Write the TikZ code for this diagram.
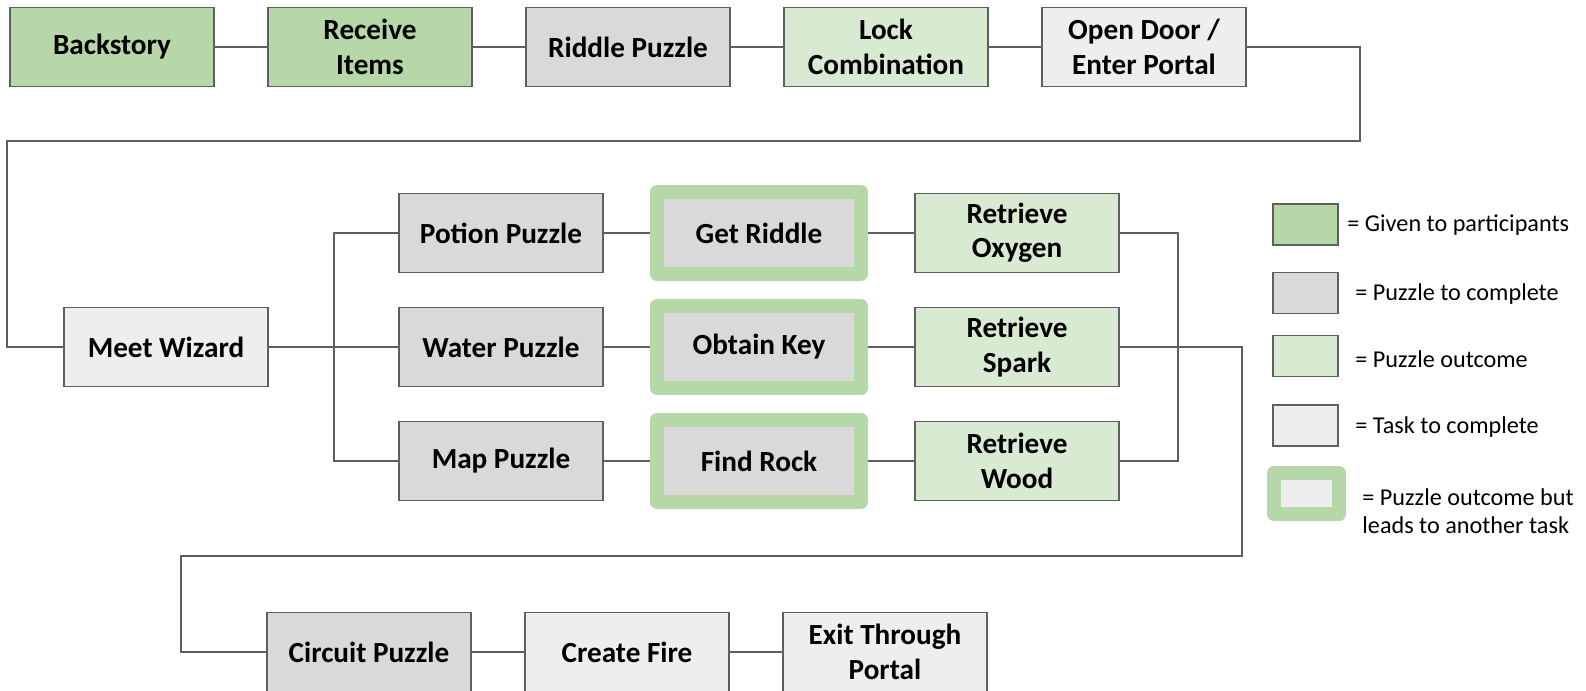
\documentclass[tikz,border=0pt]{standalone}
\usepackage{fontspec}
\setmainfont{Carlito}
\usetikzlibrary{positioning}
\definecolor{givengreen}{HTML}{B6D7A8}
\definecolor{puzzlegray}{HTML}{D9D9D9}
\definecolor{outcomegreen}{HTML}{D9EAD3}
\definecolor{taskgray}{HTML}{EEEEEE}
\definecolor{linegray}{HTML}{5F5F5F}
\tikzset{
  box/.style={draw=linegray, line width=0.6pt, minimum width=102pt, minimum height=39.5pt,
    inner sep=0pt, align=center, font=\fontsize{14.6}{17.2}\selectfont\bfseries},
  given/.style={box, fill=givengreen},
  puzzle/.style={box, fill=puzzlegray},
  outcome/.style={box, fill=outcomegreen},
  task/.style={box, fill=taskgray},
  keyout/.style={box, draw=givengreen, line width=7pt, line join=round, fill=puzzlegray,
    minimum height=41pt},
  swatch/.style={draw=linegray, line width=0.6pt, minimum width=32.5pt, minimum height=20.5pt, inner sep=0pt},
  legendtext/.style={anchor=west, inner sep=0pt, align=left, font=\fontsize{12.1}{14}\selectfont},
  link/.style={draw=linegray, line width=0.75pt}
}
\begin{document}
\begin{tikzpicture}[x=0.5pt, y=-0.5pt, node distance=129pt]
  \useasboundingbox (0,0) rectangle (1586,691);

  \node[given] (backstory) at (112,47) {Backstory};
  \node[given, right of=backstory] (receive) {Receive\\Items};
  \node[puzzle, right of=receive] (riddle) {Riddle Puzzle};
  \node[outcome, right of=riddle] (lock) {Lock\\Combination};
  \node[task, right of=lock] (door) {Open Door /\\Enter Portal};

  \node[task] (wizard) at (166,347) {Meet Wizard};
  \node[puzzle] (water) at (501,347) {Water Puzzle};
  \node[puzzle, above of=water, node distance=57pt] (potion) {Potion Puzzle};
  \node[puzzle, below of=water, node distance=57pt] (mappuzzle) {Map Puzzle};
  \node[keyout, right of=potion] (getriddle) {Get Riddle};
  \node[keyout, right of=water] (key) {Obtain Key};
  \node[keyout, right of=mappuzzle] (rock) {Find Rock};
  \node[outcome, right of=getriddle] (oxygen) {Retrieve\\Oxygen};
  \node[outcome, right of=key] (spark) {Retrieve\\Spark};
  \node[outcome, right of=rock] (wood) {Retrieve\\Wood};

  \node[puzzle] (circuit) at (369,652) {Circuit Puzzle};
  \node[task, right of=circuit] (fire) {Create Fire};
  \node[task, right of=fire] (exitportal) {Exit Through\\Portal};

  \coordinate (topright) at (1360,141);
  \coordinate (topleft) at (7,141);
  \coordinate (split) at (334,347);
  \coordinate (merge) at (1178,347);
  \coordinate (downright) at (1242,556);
  \coordinate (downleft) at (181,556);

  \draw[link] (backstory) -- (receive) -- (riddle) -- (lock) -- (door);
  \draw[link] (door.east) -| (topright) -- (topleft) |- (wizard.west);
  \draw[link] (wizard) -- (split) -- (water);
  \draw[link] (potion.west) -| (split) |- (mappuzzle.west);
  \draw[link] (potion) -- (getriddle) -- (oxygen);
  \draw[link] (water) -- (key) -- (spark);
  \draw[link] (mappuzzle) -- (rock) -- (wood);
  \draw[link] (oxygen.east) -| (merge) |- (wood.east);
  \draw[link] (spark.east) -| (downright) -- (downleft) |- (circuit.west);
  \draw[link] (circuit) -- (fire) -- (exitportal);

  \node[swatch, fill=givengreen] (keygiven) at (1305.5,224.5) {};
  \node[swatch, fill=puzzlegray] (keypuzzle) at (1305.5,293) {};
  \node[swatch, fill=outcomegreen] (keyoutcome) at (1305.5,356) {};
  \node[swatch, fill=taskgray] (keytask) at (1305.5,425.5) {};
  \node[swatch, draw=givengreen, line width=7pt, line join=round, fill=taskgray] (keyleads) at (1306.5,493.5) {};

  \node[legendtext] (txtgiven) at (1347,225) {= Given to participants};
  \node[legendtext] (txtpuzzle) at (1355,294) {= Puzzle to complete};
  \node[legendtext] (txtoutcome) at (1355,359) {= Puzzle outcome};
  \node[legendtext] (txttask) at (1355,427) {= Task to complete};
  \node[legendtext] (txtleads) at (1362,511) {= Puzzle outcome but\\leads to another task};
\end{tikzpicture}
\end{document}
